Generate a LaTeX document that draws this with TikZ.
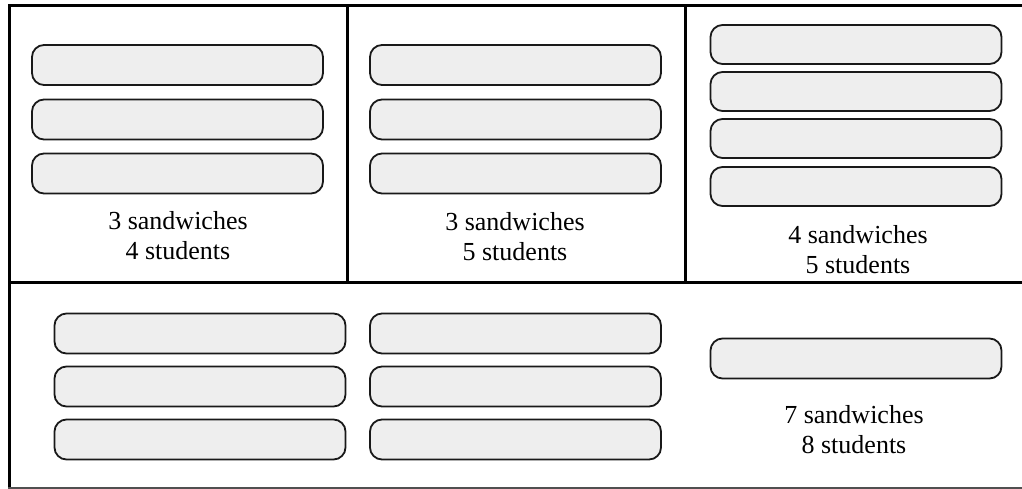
\documentclass[tikz,border=0pt]{standalone}
\usepackage{fontspec}
\setmainfont{Liberation Serif}
\definecolor{boxfill}{RGB}{238,238,238}
\definecolor{thinline}{RGB}{80,80,80}
\begin{document}
\begin{tikzpicture}[x=1pt,y=1pt,
  pill/.style={draw=black!90,fill=boxfill,line width=1.8pt,rounded corners=12pt,
    minimum width=291pt,minimum height=40pt,inner sep=0pt},
  pillb/.style={pill,minimum height=39pt},
  frame/.style={line width=3pt,black},
  lbl/.style={align=center,font=\fontsize{26}{30}\selectfont,inner sep=0pt}]
\useasboundingbox (0,0) rectangle (1022,-489);
% frame
\coordinate (tl) at (9.5,-5.5);
\coordinate (tr) at (1022,-5.5);
\coordinate (ml) at (8,-282);
\coordinate (mr) at (1022,-282);
\coordinate (bl) at (9.5,-489);
\coordinate (d1t) at (347,-5.5);
\coordinate (d1b) at (347,-282);
\coordinate (d2t) at (685,-5.5);
\coordinate (d2b) at (685,-282);
\coordinate (bbl) at (8,-488);
\coordinate (bbr) at (1022,-488);
\draw[frame] (8,-5.5) -- (tr);
\draw[frame] (tl) -- (bl);
\draw[frame] (ml) -- (mr);
\draw[frame] (d1t) -- (d1b);
\draw[frame] (d2t) -- (d2b);
\draw[thinline,line width=1.2pt] (bbl) -- (bbr);
% panel 1
\node[pill] (a1) at (177.5,-65) {};
\node[pill] (a2) at (177.5,-119.5) {};
\node[pill] (a3) at (177.5,-173.5) {};
\node[lbl] (ta) at (178,-236) {3 sandwiches\\4 students};
% panel 2
\node[pill] (b1) at (515.5,-65) {};
\node[pill] (b2) at (515.5,-119.5) {};
\node[pill] (b3) at (515.5,-173.5) {};
\node[lbl] (tb) at (515,-237) {3 sandwiches\\5 students};
% panel 3
\node[pillb] (c1) at (856,-44.5) {};
\node[pillb] (c2) at (856,-91.5) {};
\node[pillb] (c3) at (856,-138.5) {};
\node[pillb] (c4) at (856,-186.5) {};
\node[lbl] (tc) at (858,-250) {4 sandwiches\\5 students};
% bottom
\node[pill] (d1) at (200,-333.5) {};
\node[pill] (d2) at (200,-386.5) {};
\node[pill] (d3) at (200,-439.5) {};
\node[pill] (e1) at (515.5,-333.5) {};
\node[pill] (e2) at (515.5,-386.5) {};
\node[pill] (e3) at (515.5,-439.5) {};
\node[pill] (f1) at (856,-358.5) {};
\node[lbl] (tf) at (854,-430) {7 sandwiches\\8 students};
\end{tikzpicture}
\end{document}
